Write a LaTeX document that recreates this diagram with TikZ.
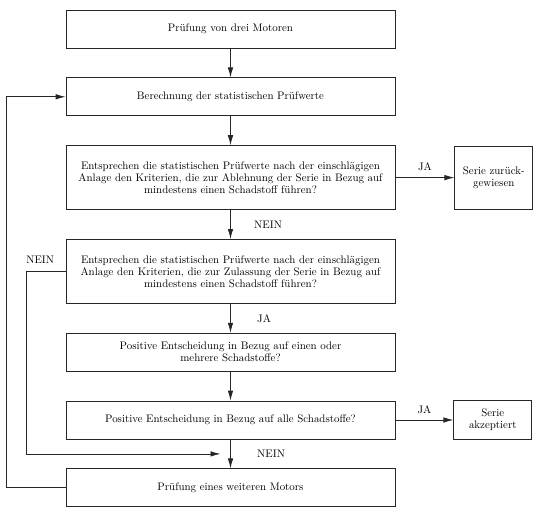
\documentclass[tikz,border=0pt]{standalone}
\usepackage{tikz}
\usetikzlibrary{arrows.meta,positioning,calc}

\tikzset{
  box/.style={draw=black!85, line width=0.8pt, minimum width=329pt, minimum height=38pt,
    align=center, inner sep=2pt, font=\fontsize{10.9}{12}\selectfont},
  tallbox/.style={box, minimum height=64pt},
  sidebox/.style={box, minimum width=78pt},
  arr/.style={draw=black!85, line width=0.8pt, -{Latex[length=10pt,width=5.5pt]}},
  lbl/.style={font=\fontsize{10.9}{12}\selectfont}
}

\begin{document}
\begin{tikzpicture}[x=1pt,y=1pt,node distance=29pt]
\useasboundingbox (0,0) rectangle (541,-520);

\node[box] (three) at (230.5,-29) {Prüfung von drei Motoren};
\node[box, below=of three] (calc) {Berechnung der statistischen Prüfwerte};
\node[tallbox, below=of calc] (reject) {Entsprechen die statistischen Prüfwerte nach der einschlägigen\\
  Anlage den Kriterien, die zur Ablehnung der Serie in Bezug auf\\
  mindestens einen Schadstoff führen?};
\node[tallbox, below=of reject] (admit) {Entsprechen die statistischen Prüfwerte nach der einschlägigen\\
  Anlage den Kriterien, die zur Zulassung der Serie in Bezug auf\\
  mindestens einen Schadstoff führen?};
\node[box, below=of admit] (some) {Positive Entscheidung in Bezug auf einen oder\\ mehrere Schadstoffe?};
\node[box, below=of some] (all) {Positive Entscheidung in Bezug auf alle Schadstoffe?};
\node[box, below=of all] (next) {Prüfung eines weiteren Motors};

\node[sidebox, minimum height=63pt, right=59pt of reject] (out1) {Serie zurück-\\gewiesen};
\node[sidebox, minimum height=39pt, right=58pt of all] (out2) {Serie\\akzeptiert};

% main column
\draw[arr] (three) -- (calc);
\draw[arr] (calc) -- (reject);
\draw[arr] (reject) -- node[lbl, right=20pt]{NEIN} (admit);
\draw[arr] (admit) -- node[lbl, right=23pt]{JA} (some);
\draw[arr] (some) -- (all);
\draw[arr] (all) -- node[lbl, right=23pt]{NEIN} (next);

% exits
\draw[arr] (reject) -- node[lbl, above=3pt]{JA} (out1);
\draw[arr] (all) -- node[lbl, above=3pt]{JA} (out2);

% loops back
\coordinate (join) at ($(all.south)!0.5!(next.north)+(-10pt,0)$);
\draw[arr] (admit.west) -- ++(-39pt,0) node[lbl, above right, xshift=-4pt, yshift=4pt]{NEIN} |- (join);
\draw[arr] (next.west) -- ++(-59pt,0) |- (calc.west);
\end{tikzpicture}
\end{document}
